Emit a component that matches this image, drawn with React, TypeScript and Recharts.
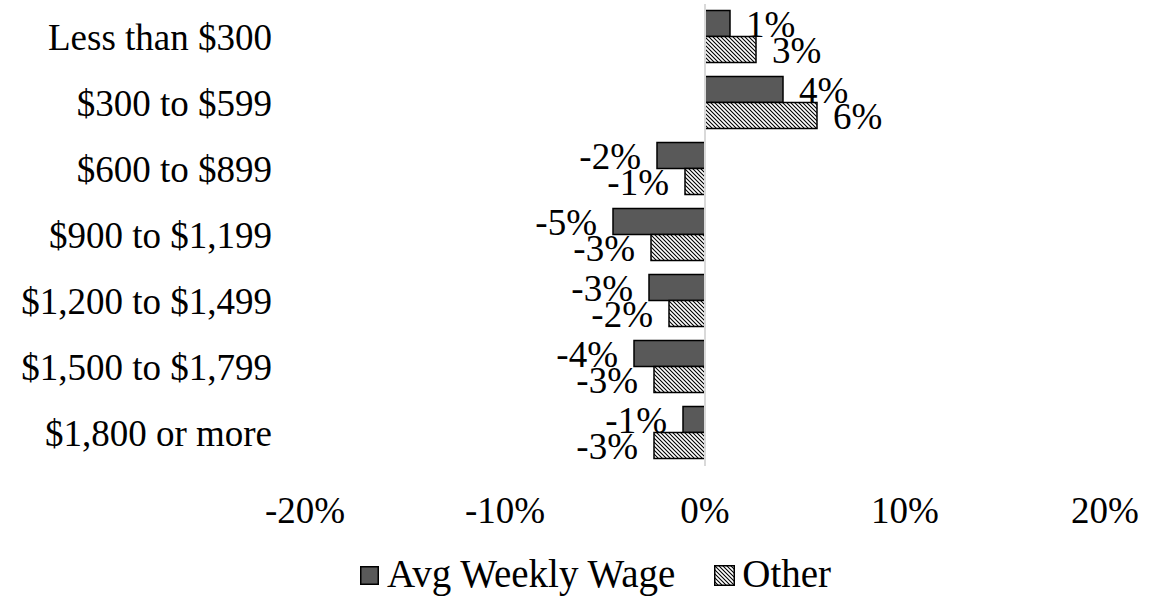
import {
  BarChart,
  Bar,
  XAxis,
  YAxis,
  ReferenceLine,
  LabelList,
  Legend,
} from "recharts";

const categories = [
  "Less than $300",
  "$300 to $599",
  "$600 to $899",
  "$900 to $1,199",
  "$1,200 to $1,499",
  "$1,500 to $1,799",
  "$1,800 or more",
];
const avgWeeklyWage = [1.25, 3.9, -2.4, -4.6, -2.8, -3.55, -1.1];
const other = [2.55, 5.6, -1.0, -2.7, -1.8, -2.55, -2.55];
const xTicks = [-20, -10, 0, 10, 20];

const FONT = "'Liberation Serif', 'Times New Roman', serif";

const data = categories.map((category, i) => ({
  category,
  wage: avgWeeklyWage[i],
  other: other[i],
}));

const valueLabel = (props: any) => {
  const { x, y, width, height, value } = props;
  const v = Number(value);
  const end = v >= 0 ? Math.max(x, x + width) : Math.min(x, x + width);
  return (
    <text
      x={v >= 0 ? end + 16 : end - 16}
      y={y + height / 2}
      dy="0.35em"
      textAnchor={v >= 0 ? "start" : "end"}
      fontFamily={FONT}
      fontSize={37}
      fill="#000"
    >
      {`${v.toFixed(0)}%`}
    </text>
  );
};

const HatchSwatch = () => (
  <svg width={21} height={21} style={{ display: "block" }}>
    <defs>
      <pattern id="hatchLegend" patternUnits="userSpaceOnUse" width={4} height={4}>
        <rect width={4} height={4} fill="#fff" />
        <path d="M0,0 L4,4 M-1,3 L1,5 M3,-1 L5,1" stroke="#000" strokeWidth={1.1} />
      </pattern>
    </defs>
    <rect x={0.75} y={0.75} width={19.5} height={19.5} fill="url(#hatchLegend)" stroke="#000" strokeWidth={1.5} />
  </svg>
);

const legendContent = () => (
  <div
    style={{
      display: "flex",
      alignItems: "center",
      height: 42,
      fontFamily: FONT,
      fontSize: 39,
      color: "#000",
      whiteSpace: "nowrap",
    }}
  >
    <svg width={19} height={19} style={{ display: "block", marginTop: 4 }}>
      <rect x={0.75} y={0.75} width={17.5} height={17.5} fill="#595959" stroke="#000" strokeWidth={1.5} />
    </svg>
    <span style={{ marginLeft: 8 }}>Avg Weekly Wage</span>
    <span style={{ marginLeft: 39, marginTop: 4 }}>
      <HatchSwatch />
    </span>
    <span style={{ marginLeft: 7 }}>Other</span>
  </div>
);

export default function App() {
  return (
    <div style={{ position: "absolute", left: 0, top: 0, background: "#fff" }}>
      <BarChart
        width={1168}
        height={596}
        data={data}
        layout="vertical"
        margin={{ top: 4, right: 63, bottom: 70, left: 0 }}
        barCategoryGap="10%"
        barGap={0}
      >
        <defs>
          <pattern id="hatch" patternUnits="userSpaceOnUse" width={4} height={4}>
            <rect width={4} height={4} fill="#fff" />
            <path d="M0,0 L4,4 M-1,3 L1,5 M3,-1 L5,1" stroke="#000" strokeWidth={1.1} />
          </pattern>
        </defs>
        <XAxis
          type="number"
          domain={[-20, 20]}
          ticks={xTicks}
          tickFormatter={(v) => `${v}%`}
          axisLine={false}
          tickLine={false}
          tickSize={0}
          tickMargin={31}
          height={60}
          tick={{ fill: "#000", fontSize: 37, fontFamily: FONT }}
        />
        <YAxis
          type="category"
          dataKey="category"
          width={305}
          axisLine={false}
          tickLine={false}
          tickSize={0}
          tickMargin={33}
          interval={0}
          tick={{ fill: "#000", fontSize: 37, fontFamily: FONT }}
        />
        <ReferenceLine x={0} stroke="#d9d9d9" strokeWidth={2} />
        <Bar
          dataKey="wage"
          name="Avg Weekly Wage"
          fill="#595959"
          stroke="#000"
          strokeWidth={1.5}
          isAnimationActive={false}
        >
          <LabelList dataKey="wage" content={valueLabel} />
        </Bar>
        <Bar
          dataKey="other"
          name="Other"
          fill="url(#hatch)"
          stroke="#000"
          strokeWidth={1.5}
          isAnimationActive={false}
        >
          <LabelList dataKey="other" content={valueLabel} />
        </Bar>
        <Legend
          layout="horizontal"
          verticalAlign="middle"
          align="center"
          wrapperStyle={{ left: 360, top: 552, width: 520 }}
          content={legendContent}
        />
      </BarChart>
    </div>
  );
}
